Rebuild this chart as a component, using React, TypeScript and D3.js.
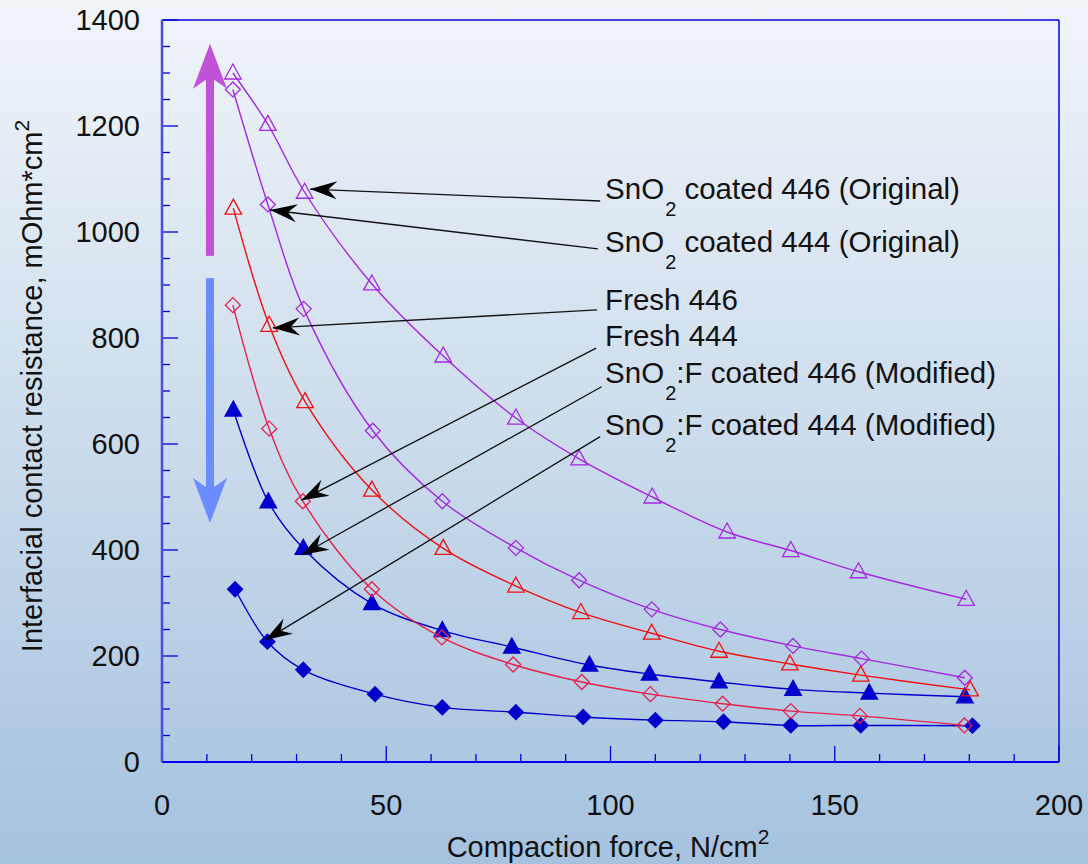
import React, { useEffect, useRef } from 'react';
import * as d3 from 'd3';

// series (x: N/cm2, y: mOhm*cm2)
const sn446X = [15.8, 23.6, 31.8, 46.8, 62.7, 78.9, 93, 109.3, 126, 140.2, 155.3, 179.3];
const sn446Y = [1300, 1203, 1075, 902, 766, 649, 572, 500, 434, 399, 359, 307];
const sn444X = [15.8, 23.6, 31.6, 47, 62.5, 78.9, 93, 109.2, 124.5, 140.7, 156, 179];
const sn444Y = [1269, 1052, 855, 625, 492, 404, 343, 288, 250, 219, 195, 159];
const fresh446X = [15.9, 23.9, 31.9, 46.8, 62.7, 78.9, 93.4, 109.2, 124.2, 140, 155.8, 180.2];
const fresh446Y = [1045, 824, 680, 513, 403, 332, 282, 243, 209, 185, 164, 136];
const fresh444X = [15.8, 23.9, 31.4, 46.8, 62.4, 78.3, 93.6, 108.9, 125, 140.2, 155.6, 178.9];
const fresh444Y = [862, 629, 492, 326, 235, 184, 151, 128, 110, 96, 87, 69];
const snf446X = [15.9, 23.7, 31.5, 46.8, 62.5, 78, 95.3, 108.7, 124.2, 140.7, 157.7, 179];
const snf446Y = [664, 491, 403, 299, 248, 217, 183, 166, 151, 137, 130, 123];
const snf444X = [16.3, 23.5, 31.5, 47.5, 62.5, 78.9, 93.9, 110, 125.2, 140.2, 155.8, 180.7];
const snf444Y = [326, 227, 174, 128, 103, 94, 85, 79, 76, 69, 69, 68.5];

const xTicks = [0, 50, 100, 150, 200];
const yTicks = [0, 200, 400, 600, 800, 1000, 1200, 1400];

// callout labels: [main, subscript, rest]
const labelParts = [
  ['SnO', '2', ' coated 446 (Original)'],
  ['SnO', '2', ' coated 444 (Original)'],
  ['Fresh 446', '', ''],
  ['Fresh 444', '', ''],
  ['SnO', '2', ':F coated 446 (Modified)'],
  ['SnO', '2', ':F coated 444 (Modified)'],
];
const labelY = [1062, 962, 853, 785, 715, 617];
const labelX = 98.8;
const arrowFrom = [[97.7, 1058.5], [97.2, 968], [97, 853], [96.8, 781], [98, 708], [97.7, 614]];
const arrowTo = [[33, 1081], [24.1, 1041.5], [24.7, 819], [31.1, 494], [31.1, 390.6], [23, 230]];

// big trend arrows [x, tail y, tip y]
const upArrow = [10.7, 955, 1355];
const downArrow = [10.7, 913, 451];

const FONT = 'Arial, "Liberation Sans", sans-serif';

const App = () => {
  const ref = useRef(null);

  useEffect(() => {
    const svg = d3.select(ref.current);
    svg.selectAll('*').remove();

    const W = 1088, H = 864;
    const m = { left: 162, right: 1059, top: 20, bottom: 762 };
    const x = d3.scaleLinear().domain([0, 200]).range([m.left, m.right]);
    const y = d3.scaleLinear().domain([0, 1400]).range([m.bottom, m.top]);

    const defs = svg.append('defs');
    const grad = defs.append('linearGradient').attr('id', 'bg').attr('x1', 0).attr('y1', 0).attr('x2', 0).attr('y2', 1);
    grad.append('stop').attr('offset', '0%').attr('stop-color', '#f1f5fa');
    grad.append('stop').attr('offset', '50%').attr('stop-color', '#ccdcec');
    grad.append('stop').attr('offset', '100%').attr('stop-color', '#a5c2df');

    svg.append('rect').attr('width', W).attr('height', H).attr('fill', 'url(#bg)');

    // frame
    svg.append('line').attr('x1', m.left).attr('x2', m.right).attr('y1', m.top).attr('y2', m.top)
      .attr('stroke', '#0000dd').attr('stroke-width', 1.5);
    svg.append('line').attr('x1', m.right).attr('x2', m.right).attr('y1', m.top).attr('y2', m.bottom)
      .attr('stroke', '#0000dd').attr('stroke-width', 1.5);

    // x ticks (minor every 10, major every 50)
    const gx = svg.append('g');
    d3.range(0, 201, 10).forEach(v => {
      const major = v % 50 === 0;
      gx.append('line').attr('x1', x(v)).attr('x2', x(v))
        .attr('y1', m.bottom).attr('y2', m.bottom - (major ? 16 : 8))
        .attr('stroke', '#0000dd').attr('stroke-width', 1.3);
    });
    xTicks.forEach(v => {
      gx.append('text').attr('x', x(v)).attr('y', 815).attr('text-anchor', 'middle')
        .style('font-family', FONT).style('font-size', '29px').attr('fill', '#111').text(v);
    });

    // y ticks (minor every 50, major every 200)
    const gy = svg.append('g');
    d3.range(0, 1401, 50).forEach(v => {
      const major = v % 200 === 0;
      gy.append('line').attr('x1', m.left).attr('x2', m.left + (major ? 16 : 8))
        .attr('y1', y(v)).attr('y2', y(v))
        .attr('stroke', '#0000dd').attr('stroke-width', 1.3);
    });
    yTicks.forEach(v => {
      gy.append('text').attr('x', 140).attr('y', y(v) + 10).attr('text-anchor', 'end')
        .style('font-family', FONT).style('font-size', '29px').attr('fill', '#111').text(v);
    });

    svg.append('line').attr('x1', m.left).attr('x2', m.right).attr('y1', m.bottom).attr('y2', m.bottom)
      .attr('stroke', '#0000ee').attr('stroke-width', 2);
    svg.append('line').attr('x1', m.left).attr('x2', m.left).attr('y1', m.top).attr('y2', m.bottom)
      .attr('stroke', '#4a4ae6').attr('stroke-width', 2.5);

    // axis titles
    const xt = svg.append('text').attr('x', 608).attr('y', 857).attr('text-anchor', 'middle')
      .style('font-family', FONT).style('font-size', '29px').attr('fill', '#111');
    xt.append('tspan').text('Compaction force, N/cm');
    xt.append('tspan').attr('dy', -13).style('font-size', '21px').text('2');

    const yt = svg.append('text').attr('transform', 'translate(42,386) rotate(-90)').attr('text-anchor', 'middle')
      .style('font-family', FONT).style('font-size', '29px').attr('fill', '#111');
    yt.append('tspan').text('Interfacial contact resistance, mOhm*cm');
    yt.append('tspan').attr('dy', -13).style('font-size', '21px').text('2');

    // big arrows
    const bigArrow = (a, color) => {
      const [ax, y0, y1] = a;
      const px = x(ax), t0 = y(y0), t1 = y(y1);
      const dir = t1 < t0 ? -1 : 1;
      const notch = t1 - dir * 33, barb = t1 - dir * 45;
      svg.append('rect').attr('x', px - 4).attr('width', 8)
        .attr('y', Math.min(t0, notch)).attr('height', Math.abs(notch - t0)).attr('fill', color);
      svg.append('path')
        .attr('d', `M${px},${t1} L${px + 17},${barb} L${px},${notch} L${px - 17},${barb} Z`)
        .attr('fill', color);
    };
    bigArrow(upArrow, '#c052d8');
    bigArrow(downArrow, '#6b8cff');

    // series
    const line = d3.line().x(d => x(d[0])).y(d => y(d[1])).curve(d3.curveCatmullRom.alpha(0.5));
    const tri = (s) => `M0,${-s * 0.6} L${s * 0.55},${s * 0.4} L${-s * 0.55},${s * 0.4} Z`;
    const dia = (s) => `M0,${-s / 2} L${s / 2},0 L0,${s / 2} L${-s / 2},0 Z`;

    const series = [
      { xs: snf444X, ys: snf444Y, color: '#0000cc', shape: dia(15), fill: true },
      { xs: snf446X, ys: snf446Y, color: '#0000cc', shape: tri(15), fill: true },
      { xs: fresh444X, ys: fresh444Y, color: '#e8204c', shape: dia(15), fill: false },
      { xs: fresh446X, ys: fresh446Y, color: '#f01010', shape: tri(15), fill: false },
      { xs: sn444X, ys: sn444Y, color: '#a428e4', shape: dia(15), fill: false },
      { xs: sn446X, ys: sn446Y, color: '#a428e4', shape: tri(15), fill: false },
    ];

    series.forEach(s => {
      const pts = s.xs.map((v, i) => [v, s.ys[i]]);
      svg.append('path').datum(pts).attr('d', line).attr('fill', 'none')
        .attr('stroke', s.color).attr('stroke-width', 1.4);
      svg.append('g').selectAll('path').data(pts).enter().append('path')
        .attr('transform', d => `translate(${x(d[0])},${y(d[1])})`)
        .attr('d', s.shape)
        .attr('fill', s.fill ? s.color : 'none')
        .attr('stroke', s.color).attr('stroke-width', 1.3);
    });

    // callouts
    labelParts.forEach((p, i) => {
      const t = svg.append('text').attr('x', x(labelX)).attr('y', y(labelY[i]))
        .style('font-family', FONT).style('font-size', '29.5px').attr('fill', '#111');
      t.append('tspan').text(p[0]);
      if (p[1]) {
        t.append('tspan').attr('dx', 1).attr('dy', 17).style('font-size', '20px').text(p[1]);
        t.append('tspan').attr('dy', -17).text(p[2]);
      }

      const [fx, fy] = [x(arrowFrom[i][0]), y(arrowFrom[i][1])];
      const [tx, ty] = [x(arrowTo[i][0]), y(arrowTo[i][1])];
      svg.append('line').attr('x1', fx).attr('y1', fy).attr('x2', tx).attr('y2', ty)
        .attr('stroke', '#111').attr('stroke-width', 1.3);
      const ang = Math.atan2(ty - fy, tx - fx) * 180 / Math.PI;
      svg.append('path')
        .attr('transform', `translate(${tx},${ty}) rotate(${ang})`)
        .attr('d', 'M0,0 L-27,-9 L-18,0 L-27,9 Z')
        .attr('fill', '#000');
    });
  }, []);

  return (
    <div style={{ position: 'absolute', left: 0, top: 0 }}>
      <svg ref={ref} width={1088} height={864} style={{ display: 'block' }}></svg>
    </div>
  );
};

export default App;
